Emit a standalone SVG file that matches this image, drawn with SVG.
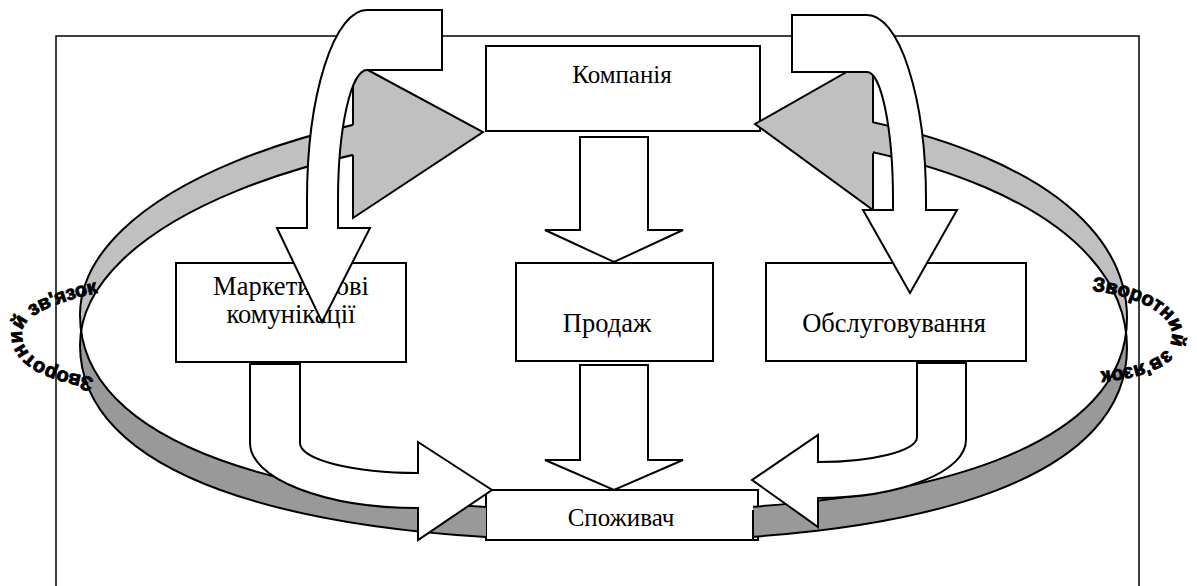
<svg xmlns="http://www.w3.org/2000/svg" width="1197" height="586" viewBox="0 0 1197 586">
<style>
.box{fill:#fff;stroke:#000;stroke-width:2}
.lbl{font-family:"Liberation Serif","Times New Roman",serif;font-size:26.5px;fill:#000;text-anchor:middle}
.sm{font-size:25px}
.arr{fill:#fff;stroke:#000;stroke-width:2;stroke-linejoin:miter}
.edge{fill:none;stroke:#000;stroke-width:2}
.fb{font-family:"Liberation Sans",Arial,sans-serif;font-weight:bold;font-size:20px;fill:#000;stroke:#000;stroke-width:0.9}
</style>
<defs>
<clipPath id="clipBack"><rect x="0" y="0" width="353" height="586"/><rect x="873" y="0" width="324" height="586"/></clipPath>
<clipPath id="clipFront"><rect x="0" y="0" width="486" height="586"/><rect x="753" y="0" width="444" height="586"/></clipPath>
<path id="fbL" d="M 94 378 C 60 371, 23 362, 22 335 C 21 315, 56 302, 101 292"/>
<path id="fbR" d="M 1092 291 C 1130 294, 1172 312, 1172 335 C 1172 360, 1130 370, 1092 372"/>
</defs>
<rect id="frame" x="56" y="36" width="1083" height="570" fill="none" stroke="#000" stroke-width="1.5"/>
<g id="kompaniya"><rect class="box" x="486" y="46" width="274" height="85"/><text class="lbl sm" x="622" y="83">Компанія</text></g>
<g id="marketing"><rect class="box" x="176" y="263" width="230" height="99"/><text class="lbl" x="291" y="295">Маркетингові</text><text class="lbl" x="291" y="323">комунікації</text></g>
<g id="prodazh"><rect class="box" x="516" y="263" width="197" height="98"/><text class="lbl" x="607" y="332">Продаж</text></g>
<g id="obsluh"><rect class="box" x="766" y="263" width="260" height="98"/><text class="lbl" x="894" y="332">Обслуговування</text></g>
<g id="spozhyvach"><rect class="box" x="486" y="490" width="272" height="50"/><text class="lbl sm" x="621" y="526">Споживач</text></g>
<g id="connectors">
<g id="feedback-ring">
<path clip-path="url(#clipBack)" fill="#c0c0c0" d="M 80,315 C 80,194.7 319.7,97 615,97 C 922.2,97 1127,185.4 1127,318 L 1127,348 C 1127,215.4 922.2,127 615,127 C 319.7,127 80,224.7 80,345 Z"/>
<path clip-path="url(#clipFront)" fill="#999999" d="M 80,315 C 80,440.4 274.4,511 620,511 C 944.5,511 1127,441.5 1127,318 L 1127,348 C 1127,471.5 944.5,541 620,541 C 274.4,541 80,470.4 80,345 Z"/>
<path class="edge" clip-path="url(#clipBack)" d="M 80,315 C 80,194.7 319.7,97 615,97 C 922.2,97 1127,185.4 1127,318 M 80,345 C 80,224.7 319.7,127 615,127 C 922.2,127 1127,215.4 1127,348"/>
<path class="edge" clip-path="url(#clipFront)" d="M 80,315 C 80,440.4 274.4,511 620,511 C 944.5,511 1127,441.5 1127,318 M 80,345 C 80,470.4 274.4,541 620,541 C 944.5,541 1127,471.5 1127,348"/>
<line class="edge" x1="753" y1="510" x2="753" y2="540"/>
<polygon fill="#c0c0c0" points="353,62 483,132 353,218"/>
<polyline class="edge" points="353,125 353,62 483,132 353,218 353,155"/>
<polygon fill="#c0c0c0" points="873,57 755,124 873,210"/>
<polyline class="edge" points="873,123 873,57 755,124 873,210 873,153"/>
</g>
<path class="arr" d="M 277,228 L 307,228 L 307,200 A 60 190 0 0 1 367,10 L 442,10 L 442,70 L 367,70 A 29 130 0 0 0 338,200 L 338,228 L 370,228 L 322,322 Z"/>
<path class="arr" d="M 957,210 L 926,210 L 926,200 A 59 185 0 0 0 867,15 L 792,15 L 792,72 L 867,72 A 26 128 0 0 1 893,200 L 893,210 L 863,210 L 910,293 Z"/>
<path class="arr" d="M 580,137 L 648,137 L 648,230 L 683,230 L 614,262 L 545,230 L 580,230 Z"/>
<path class="arr" d="M 580,365 L 648,365 L 648,460 L 683,460 L 614,490 L 545,460 L 580,460 Z"/>
<path class="arr" d="M 250,364 L 300,364 L 300,443 A 118 30 0 0 0 418,473 L 418,442 L 492,490 L 418,540 L 418,508 A 168 65 0 0 1 250,443 Z"/>
<path class="arr" d="M 917,363 L 966,363 L 966,440 A 148 58 0 0 1 818,498 L 818,527 L 752,480 L 818,435 L 818,462 A 99 25 0 0 0 917,437 Z"/>
</g>
<g id="feedback-labels">
<text class="fb" textLength="182" lengthAdjust="spacing"><textPath href="#fbL">Зворотний зв'язок</textPath></text>
<text class="fb" textLength="184" lengthAdjust="spacing"><textPath href="#fbR">Зворотний зв'язок</textPath></text>
</g>
</svg>
